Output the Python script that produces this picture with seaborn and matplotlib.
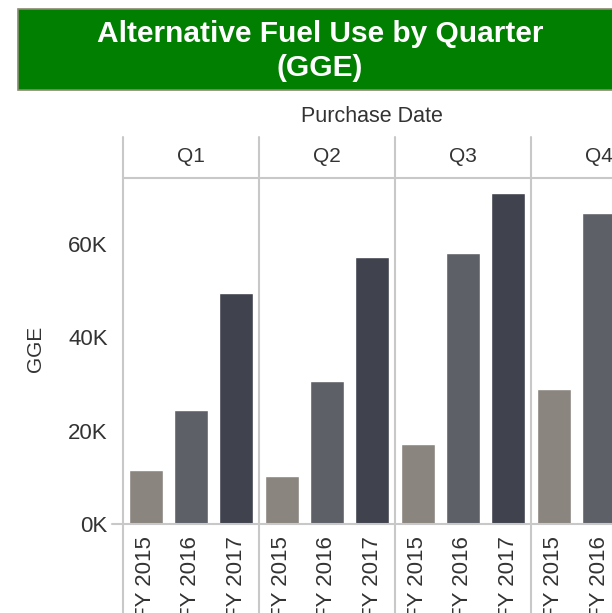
import numpy as np
import pandas as pd
import matplotlib.pyplot as plt
import seaborn as sns
from matplotlib.lines import Line2D
from matplotlib.patches import Rectangle

# Data (GGE)
quarters = ['Q1', 'Q2', 'Q3', 'Q4']
years = ['FY 2015', 'FY 2016', 'FY 2017']
gge_fy2015 = [11600, 10300, 17200, 28900]
gge_fy2016 = [24400, 30600, 58100, 66600]
gge_fy2017 = [49500, 57200, 70900, np.nan]  # Q4 FY 2017 lies off the right edge
year_colors = ['#8b857f', '#5e6068', '#40434e']
y_ticks = [0, 20000, 40000, 60000]


def build_frame():
    rows = []
    for i, q in enumerate(quarters):
        for y, vals in zip(years, [gge_fy2015, gge_fy2016, gge_fy2017]):
            rows.append({'quarter': q, 'year': y, 'gge': vals[i]})
    return pd.DataFrame(rows)


def main():
    df = build_frame()

    sns.set_style('white')
    plt.rcParams['font.family'] = ['Liberation Sans', 'DejaVu Sans']

    W, H = 612, 613
    fig = plt.figure(figsize=(W / 100, H / 100), dpi=100)

    # pixel helpers (top-left origin)
    def fx(px):
        return px / W

    def fy(py):
        return 1 - py / H

    line_col = '#c8c8c8'
    text_col = '#333333'

    # green title banner
    fig.patches.append(Rectangle((fx(18), fy(90)), fx(700) - fx(18), (90 - 9) / H,
                                 transform=fig.transFigure, facecolor='#007f00',
                                 edgecolor='#8a8a70', linewidth=1.2))
    fig.text(fx(320), fy(34), 'Alternative Fuel Use by Quarter', ha='center', va='center',
             color='white', fontsize=21.5, fontweight='bold')
    fig.text(fx(320), fy(68), '(GGE)', ha='center', va='center',
             color='white', fontsize=21.5, fontweight='bold')

    fig.text(fx(372), fy(116), 'Purchase Date', ha='center', va='center',
             color=text_col, fontsize=15.5)

    left0, panel_w = 123, 136
    top, base = 178, 524
    ymax = (base - top) / ((base - 244) / 60000)

    for i, q in enumerate(quarters):
        left = left0 + panel_w * i
        ax = fig.add_axes([fx(left), fy(base), panel_w / W, (base - top) / H])
        sub = df[df['quarter'] == q]
        sns.barplot(data=sub, x='year', y='gge', hue='year', order=years, hue_order=years,
                    palette=year_colors, width=0.75, legend=False, ax=ax, saturation=1)
        ax.set_xlim(-0.5, 2.5)
        ax.set_ylim(0, ymax)
        ax.set_facecolor('white')
        for s in ax.spines.values():
            s.set_visible(False)
        ax.set_xlabel('')
        ax.set_ylabel('')
        ax.set_xticks([0, 1, 2])
        ax.set_xticklabels(years, rotation=90, fontsize=16, color=text_col)
        ax.tick_params(axis='x', length=0, pad=9)
        ax.set_xticks([0.5, 1.5], minor=True)
        ax.tick_params(axis='x', which='minor', length=5.8, width=1.2, color=line_col)
        if i == 0:
            ax.set_yticks(y_ticks)
            ax.set_yticklabels([f'{v // 1000}K' for v in y_ticks], fontsize=16, color=text_col)
            ax.tick_params(axis='y', length=8, width=1.2, color=line_col, pad=3)
        else:
            ax.set_yticks([])

        # facet header label
        fig.text(fx(left + panel_w / 2), fy(157), q, ha='center', va='center',
                 color=text_col, fontsize=15)

    # panel separators, header rule and baseline
    for i in range(len(quarters) + 1):
        x = fx(left0 + panel_w * i)
        fig.add_artist(Line2D([x, x], [fy(137), fy(640)], transform=fig.transFigure,
                              color=line_col, linewidth=1.5))
    fig.add_artist(Line2D([fx(left0), fx(700)], [fy(top), fy(top)], transform=fig.transFigure,
                          color=line_col, linewidth=1.5))
    fig.add_artist(Line2D([fx(112), fx(700)], [fy(base), fy(base)], transform=fig.transFigure,
                          color=line_col, linewidth=1.5))

    fig.text(fx(36), fy(349), 'GGE', ha='center', va='center', rotation=90,
             color=text_col, fontsize=15)

    fig.savefig('out.png', dpi=100, facecolor='white')


if __name__ == '__main__':
    main()
